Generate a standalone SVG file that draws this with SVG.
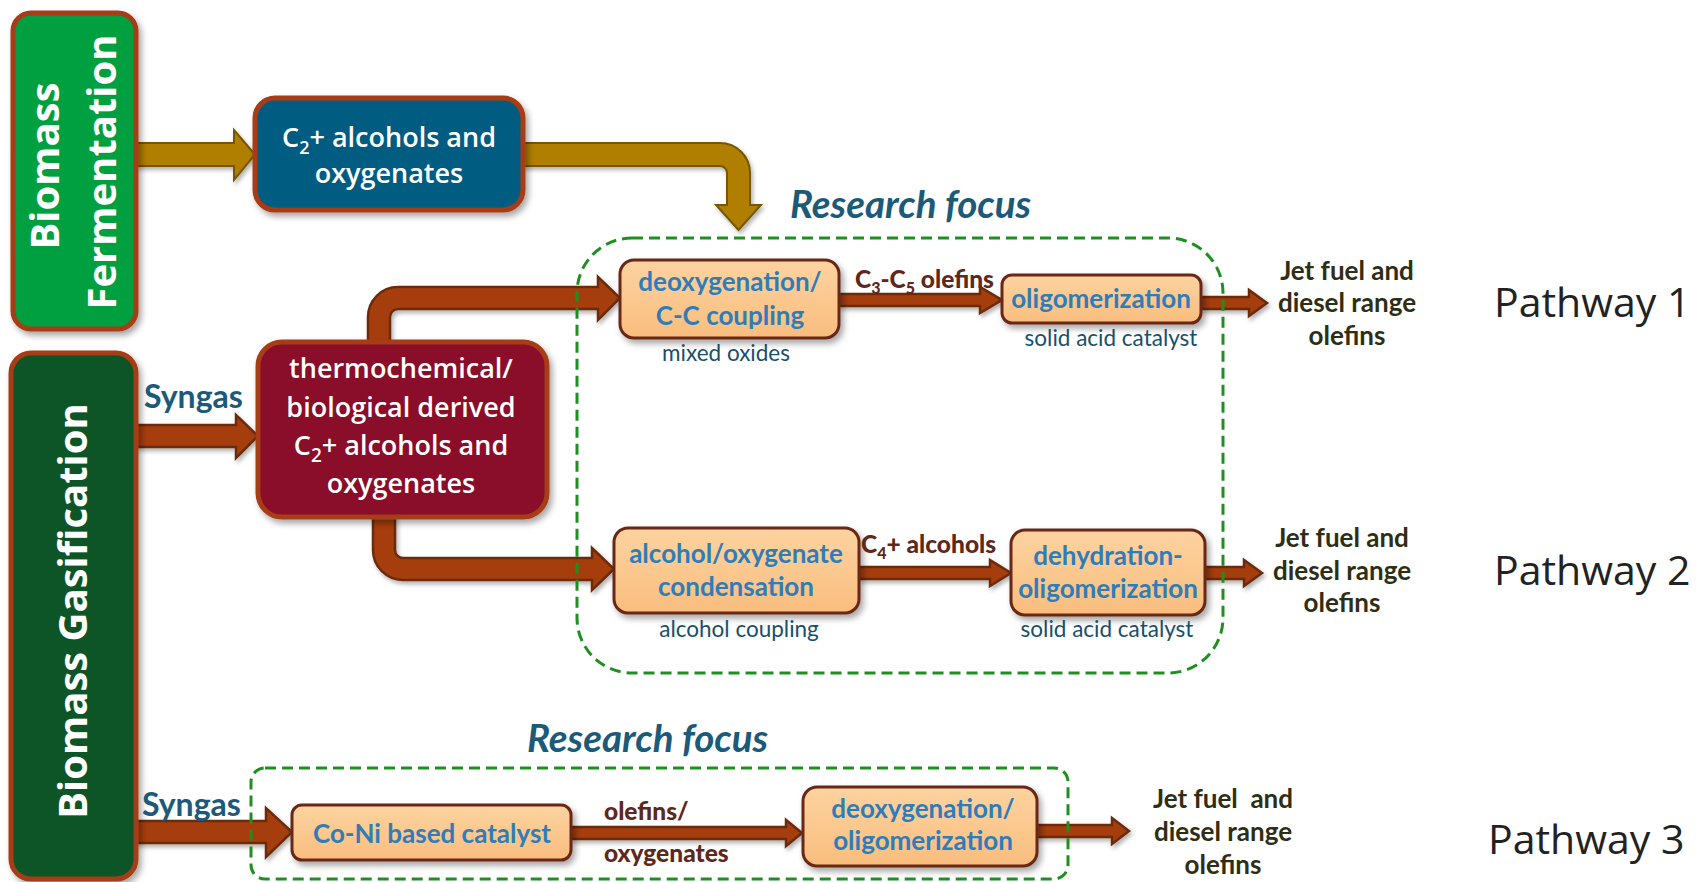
<svg xmlns="http://www.w3.org/2000/svg" width="1696" height="882" viewBox="0 0 1696 882">
<defs>
<filter id="sh" x="-10%" y="-10%" width="130%" height="130%"><feDropShadow dx="3" dy="4" stdDeviation="3" flood-color="#000" flood-opacity="0.35"/></filter>
<filter id="ash" x="-5%" y="-20%" width="115%" height="150%"><feDropShadow dx="2" dy="3" stdDeviation="2" flood-color="#000" flood-opacity="0.3"/></filter>
<linearGradient id="og" x1="0" y1="0" x2="0" y2="1"><stop offset="0" stop-color="#fdd3a0"/><stop offset="1" stop-color="#f9bd7e"/></linearGradient>
</defs>
<style>
.src{stroke:#a63c14;stroke-width:5;filter:url(#sh)}
.ob{fill:url(#og);stroke:#6b2812;stroke-width:3;filter:url(#sh)}
.gold{fill:#b07f00;stroke:#785600;stroke-width:2;filter:url(#ash)}
.br{fill:#a63e10;stroke:#6c2c0c;stroke-width:2.5;filter:url(#ash)}
.dash{fill:none;stroke:#1f8f22;stroke-width:3;stroke-dasharray:11 6}
.vt{font-family:"Open Sans",sans-serif;font-weight:700;font-size:40px;fill:#fff;text-anchor:middle}
.wt{font-family:"Open Sans",sans-serif;font-weight:600;font-size:27px;fill:#fff;text-anchor:middle}
.bt{font-family:Lato,sans-serif;font-weight:700;font-size:26px;fill:#2f7db8;text-anchor:middle}
.cat{font-family:Lato,sans-serif;font-size:22.5px;fill:#174f6c;text-anchor:middle}
.teal{font-family:Lato,sans-serif;font-weight:700;font-size:32px;fill:#1b5a78}
.rf{font-family:Lato,sans-serif;font-weight:700;font-style:italic;font-size:38.5px;fill:#1b5a78}
.ml{font-family:Lato,sans-serif;font-weight:900;font-size:24.5px;fill:#5e281a}
.jet{font-family:Lato,sans-serif;font-weight:700;font-size:26px;fill:#2e2e14;text-anchor:middle}
.pw{font-family:"Open Sans",sans-serif;font-size:41px;fill:#222}
</style>
<rect width="1696" height="882" fill="#fff"/>

<g id="connectors">
<path class="gold" d="M136,143 H234 V130 L255,154.5 L234,180 V166 H136 Z"/>
<path class="gold" d="M523,143 H720 A30,30 0 0 1 750,173 V205 H761 L738.5,230 L716,205 H727 V173 A7,7 0 0 0 720,166 H523 Z"/>
<path class="br" d="M136,425 H236 V415 L258,436 L236,458 V447 H136 Z"/>
<path class="br" d="M368,342 V317 A30,30 0 0 1 398,287 H598 V277 L620,298 L598,320 V309 H398 A8,8 0 0 0 390,317 V342 Z"/>
<path class="br" d="M373,517 V550 A30,30 0 0 0 403,580 H592 V590 L614,569 L592,548 V558 H403 A8,8 0 0 1 395,550 V517 Z"/>
<path class="br" d="M839,294 H980 V287 L1002,300 L980,313 V306 H839 Z"/>
<path class="br" d="M1201,297 H1249 V290 L1267,303 L1249,316 V309 H1201 Z"/>
<path class="br" d="M859,567 H990 V560 L1011,573 L990,586 V579 H859 Z"/>
<path class="br" d="M1205,567 H1244 V560 L1262,573 L1244,586 V579 H1205 Z"/>
<path class="br" d="M136,821 H266 V808 L292,832 L266,857 V843 H136 Z"/>
<path class="br" d="M571,827 H786 V820 L802,833 L786,846 V839 H571 Z"/>
<path class="br" d="M1036,825 H1112 V818 L1129,831 L1112,844 V837 H1036 Z"/>
</g>

<g id="biomass-fermentation">
<rect class="src" x="13" y="13" width="123" height="316" rx="18" fill="#00a03f"/>
<text class="vt" transform="translate(59,166) rotate(-90)">Biomass</text>
<text class="vt" transform="translate(116,172) rotate(-90)">Fermentation</text>
</g>
<g id="biomass-gasification">
<rect class="src" x="11" y="353" width="125" height="526" rx="20" fill="#0b5526"/>
<text class="vt" transform="translate(87,611) rotate(-90)">Biomass Gasification</text>
</g>

<g id="fermentation-alcohols">
<rect class="src" x="255" y="98" width="268" height="112" rx="20" fill="#065c81"/>
<text class="wt" x="389" y="147">C<tspan font-size="18" dy="7">2</tspan><tspan dy="-7">+ alcohols and</tspan></text>
<text class="wt" x="389" y="183">oxygenates</text>
</g>

<g id="syngas-label-1"><text class="teal" x="144" y="408">Syngas</text></g>
<g id="syngas-label-2"><text class="teal" x="142" y="816">Syngas</text></g>

<g id="derived-alcohols">
<rect class="src" x="258" y="342" width="289" height="175" rx="24" fill="#8a0b2c"/>
<text class="wt" x="401" y="378" font-size="28">thermochemical/</text>
<text class="wt" x="401" y="417" font-size="28">biological derived</text>
<text class="wt" x="401" y="455" font-size="28">C<tspan font-size="19" dy="7">2</tspan><tspan dy="-7">+ alcohols and</tspan></text>
<text class="wt" x="401" y="493" font-size="28">oxygenates</text>
</g>

<g id="deoxygenation-coupling">
<rect class="ob" x="620" y="260" width="219" height="78" rx="14"/>
<text class="bt" x="730" y="291">deoxygenation/</text>
<text class="bt" x="730" y="325">C-C coupling</text>
<text class="cat" x="726" y="361">mixed oxides</text>
</g>
<g id="label-c3c5"><text class="ml" x="855" y="288">C<tspan font-size="16" dy="6">3</tspan><tspan dy="-6">-C</tspan><tspan font-size="16" dy="6">5</tspan><tspan dy="-6"> olefins</tspan></text></g>
<g id="oligomerization-1">
<rect class="ob" x="1002" y="275" width="199" height="48" rx="10"/>
<text class="bt" x="1101" y="308">oligomerization</text>
<text class="cat" x="1111" y="346">solid acid catalyst</text>
</g>
<g id="product-1">
<text class="jet" x="1347" y="280">Jet fuel and</text>
<text class="jet" x="1347" y="312">diesel range</text>
<text class="jet" x="1347" y="345">olefins</text>
</g>
<g id="pathway-1"><text class="pw" x="1494" y="317">Pathway 1</text></g>

<g id="alcohol-condensation">
<rect class="ob" x="614" y="528" width="245" height="85" rx="14"/>
<text class="bt" x="736" y="563">alcohol/oxygenate</text>
<text class="bt" x="736" y="596">condensation</text>
<text class="cat" x="739" y="637">alcohol coupling</text>
</g>
<g id="label-c4"><text class="ml" x="861" y="553">C<tspan font-size="16" dy="6">4</tspan><tspan dy="-6">+ alcohols</tspan></text></g>
<g id="dehydration-oligomerization">
<rect class="ob" x="1011" y="530" width="194" height="85" rx="14"/>
<text class="bt" x="1108" y="565">dehydration-</text>
<text class="bt" x="1108" y="598">oligomerization</text>
<text class="cat" x="1107" y="637">solid acid catalyst</text>
</g>
<g id="product-2">
<text class="jet" x="1342" y="547">Jet fuel and</text>
<text class="jet" x="1342" y="580">diesel range</text>
<text class="jet" x="1342" y="612">olefins</text>
</g>
<g id="pathway-2"><text class="pw" x="1494" y="585">Pathway 2</text></g>

<g id="coni-catalyst">
<rect class="ob" x="292" y="805" width="279" height="55" rx="10"/>
<text class="bt" x="432" y="843" font-size="24.5">Co-Ni based catalyst</text>
</g>
<g id="label-olefins-oxygenates">
<text class="ml" x="604" y="820">olefins/</text>
<text class="ml" x="604" y="862">oxygenates</text>
</g>
<g id="deoxygenation-oligomerization">
<rect class="ob" x="803" y="787" width="234" height="79" rx="14"/>
<text class="bt" x="923" y="818">deoxygenation/</text>
<text class="bt" x="923" y="850">oligomerization</text>
</g>
<g id="product-3">
<text class="jet" x="1223" y="808" style="white-space:pre">Jet fuel  and</text>
<text class="jet" x="1223" y="841">diesel range</text>
<text class="jet" x="1223" y="874">olefins</text>
</g>
<g id="pathway-3"><text class="pw" x="1488" y="854">Pathway 3</text></g>

<g id="research-focus-1">
<rect class="dash" x="577" y="238" width="646" height="435" rx="55"/>
<text class="rf" x="790" y="218">Research focus</text>
</g>
<g id="research-focus-2">
<rect class="dash" x="251" y="768" width="817" height="111" rx="14"/>
<text class="rf" x="527" y="752">Research focus</text>
</g>
</svg>
